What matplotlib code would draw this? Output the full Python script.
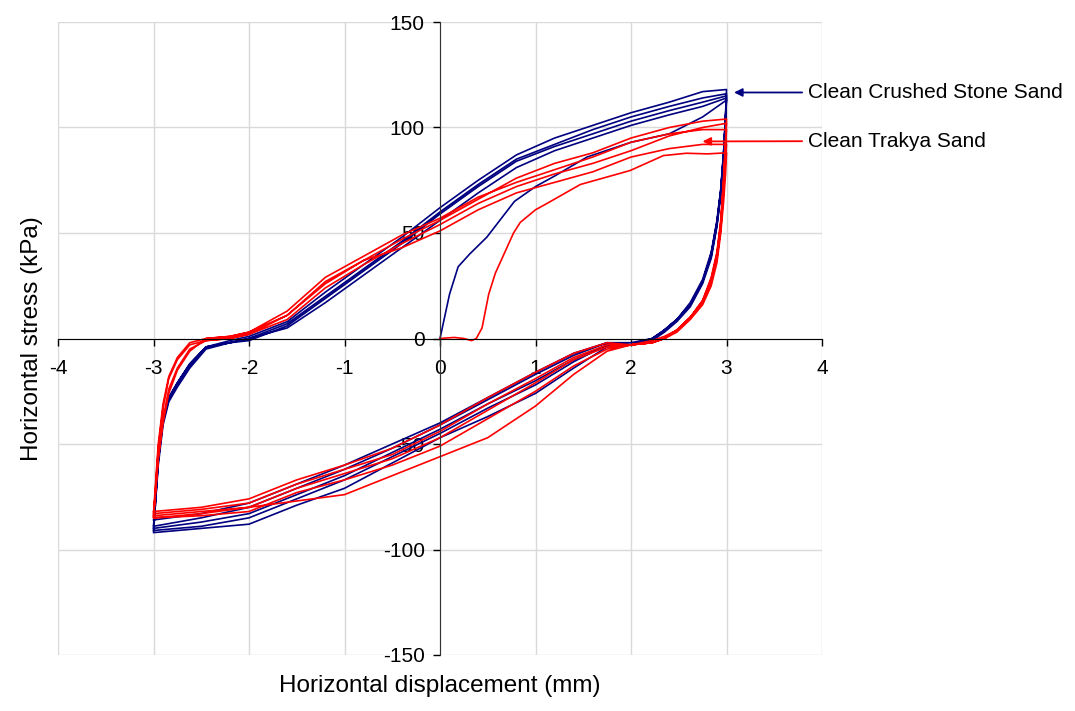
import matplotlib.pyplot as plt

plt.rcParams['font.family'] = ['Liberation Sans', 'DejaVu Sans']
plt.rcParams['axes.unicode_minus'] = False

# displacement grids used by the reloading (-3 -> 3) and unloading (3 -> -3) branches, mm
up_x = [-3.0, -2.95, -2.9, -2.84, -2.75, -2.62, -2.45, -2.2, -2.0, -1.6, -1.2,
        -0.8, -0.4, 0.0, 0.4, 0.8, 1.2, 1.6, 2.0, 2.4, 2.75, 3.0]
dn_x = [3.0, 2.99, 2.97, 2.94, 2.9, 2.84, 2.75, 2.62, 2.48, 2.35, 2.22, 2.0,
        1.75, 1.4, 1.0, 0.5, 0.0, -0.5, -1.0, -1.5, -2.0, -2.5, -3.0]

# --- Clean Crushed Stone Sand (kPa) ---
stone_x0 = [0, 0.1, 0.19, 0.31, 0.49, 0.78, 1.0, 1.2, 1.54, 2.0, 2.4, 2.75, 3.0]
stone_y0 = [0, 21, 34, 40, 48, 65, 72, 77, 86, 93, 97, 105, 113]
stone_dn1 = [113, 103, 86, 68, 53, 38, 26, 15, 8, 3, -1, -3, -4, -14, -26, -37, -47, -59, -71, -79, -88, -90, -92]
stone_up1 = [-92, -58, -39, -29, -22, -13, -4, -2, 0, 5, 17, 30, 43, 56, 69, 81, 89, 95, 101, 106, 110, 114]
stone_dn2 = [114, 104, 87, 69, 54, 39, 27, 16, 9, 4, -1, -3, -3, -11, -22, -33, -45, -56, -67, -76, -85, -89, -91]
stone_up2 = [-91, -60, -41, -30, -23, -14, -5, -2, -1, 6, 19, 32, 45, 59, 72, 84, 91, 97, 103, 108, 112, 115]
stone_dn3 = [115, 105, 88, 70, 55, 40, 27, 16, 9, 4, 0, -3, -3, -10, -20, -31, -43, -54, -65, -74, -83, -87, -90]
stone_up3 = [-90, -57, -38, -28, -21, -12, -4, -1, 1, 8, 22, 35, 48, 62, 75, 87, 95, 101, 107, 112, 117, 118]
stone_dn4 = [118, 106, 89, 71, 56, 41, 28, 17, 9, 4, 0, -2, -2, -8, -17, -29, -41, -52, -62, -71, -80, -85, -89]
stone_up4 = [-89, -56, -38, -28, -21, -12, -4, -2, 0, 7, 20, 33, 46, 60, 73, 85, 92, 99, 105, 110, 114, 116]
stone_dn5 = [116, 105, 88, 70, 55, 40, 27, 16, 9, 4, -1, -3, -2, -7, -16, -28, -40, -50, -60, -69, -78, -83, -86]

# --- Clean Trakya Sand (kPa) ---
trakya_x0 = [0, 0.15, 0.25, 0.33, 0.38, 0.44, 0.51, 0.58, 0.64, 0.7, 0.77, 0.84, 1.0, 1.12, 1.47, 1.99, 2.34, 2.58, 2.8, 3.0]
trakya_y0 = [0, 0.5, 0, -1, 0, 5, 21, 31, 37, 43, 50, 55, 61, 64, 73, 79.6, 86.7, 87.8, 87.5, 88]
trakya_dn1 = [88, 78, 65, 50, 36, 25, 16, 9, 3, 0, -2, -3, -6, -17, -32, -47, -56, -65, -74, -77, -80, -83, -85]
trakya_up1 = [-85, -56, -38, -24, -14, -5, -1, 0, 2, 11, 27, 37, 43, 51, 61, 69, 74, 79, 86, 90, 92, 92]
trakya_dn2 = [92, 85, 70, 52, 38, 27, 17, 10, 4, 1, -1, -3, -5, -13, -25, -38, -51, -60, -67, -73, -82, -84, -85]
trakya_up2 = [-85, -52, -33, -19, -10, -3, -1, 0, 2, 9, 24, 35, 45, 54, 64, 72, 78, 83, 89, 96, 100, 102]
trakya_dn3 = [102, 92, 75, 55, 40, 28, 18, 10, 4, 0, -2, -3, -4, -10, -21, -34, -47, -57, -64, -71, -80, -82, -84]
trakya_up3 = [-84, -57, -40, -26, -15, -6, 0, 1, 3, 13, 29, 39, 49, 57, 67, 74, 80, 86, 93, 97, 99, 99]
trakya_dn4 = [99, 90, 73, 54, 39, 27, 17, 10, 4, 0, -2, -3, -3, -9, -19, -31, -44, -55, -62, -69, -78, -81, -83]
trakya_up4 = [-83, -50, -31, -18, -9, -2, 0, 1, 3, 11, 26, 37, 47, 56, 66, 76, 83, 88, 95, 100, 103, 104]
trakya_dn5 = [104, 94, 76, 56, 41, 29, 18, 10, 4, 0, -2, -3, -2, -7, -16, -28, -41, -52, -60, -67, -76, -80, -82]


def build_path(x0, y0, downs, ups):
    # chain first loading + alternating unloading / reloading branches
    xs, ys = list(x0), list(y0)
    for i, d in enumerate(downs):
        xs += dn_x
        ys += d
        if i < len(ups):
            xs += up_x
            ys += ups[i]
    return xs, ys


stone_x, stone_y = build_path(stone_x0, stone_y0,
                              [stone_dn1, stone_dn2, stone_dn3, stone_dn4, stone_dn5],
                              [stone_up1, stone_up2, stone_up3, stone_up4])
trakya_x, trakya_y = build_path(trakya_x0, trakya_y0,
                                [trakya_dn1, trakya_dn2, trakya_dn3, trakya_dn4, trakya_dn5],
                                [trakya_up1, trakya_up2, trakya_up3, trakya_up4])

fig = plt.figure(figsize=(10.75, 7.11), dpi=100)
ax = fig.add_axes([58 / 1075, 56 / 711, 764 / 1075, 633 / 711])

ax.plot(stone_x, stone_y, color='#000080', lw=1.2, solid_joinstyle='round')
ax.plot(trakya_x, trakya_y, color='#FF0000', lw=1.2, solid_joinstyle='round')

ax.set_xlim(-4, 4)
ax.set_ylim(-150, 150)
ax.set_xticks(range(-4, 5))
ax.set_yticks(range(-150, 151, 50))
ax.grid(True, color='#d9d9d9', lw=1)
ax.set_axisbelow(True)

for s in ['top', 'right']:
    ax.spines[s].set_visible(False)
ax.spines['left'].set_position(('data', 0))
ax.spines['bottom'].set_position(('data', 0))
ax.spines['left'].set_color('#333333')
ax.spines['bottom'].set_color('black')
ax.tick_params(axis='both', labelsize=15, length=5, width=1, direction='out')
ax.tick_params(axis='x', pad=10)
ax.tick_params(axis='y', pad=6)

ax.set_xlabel('Horizontal displacement (mm)', fontsize=17.5)
ax.set_ylabel('Horizontal stress (kPa)', fontsize=17.5)
ax.xaxis.set_label_coords(0.5, -0.032)
ax.yaxis.set_label_coords(-0.02, 0.5)

ax.annotate('Clean Crushed Stone Sand', xy=(3.05, 116.6), xytext=(3.85, 116.6),
            fontsize=15, va='center', ha='left', annotation_clip=False,
            arrowprops=dict(arrowstyle='-|>', color='#000080', lw=1.3, mutation_scale=12))
ax.annotate('Clean Trakya Sand', xy=(2.72, 93.4), xytext=(3.85, 93.6),
            fontsize=15, va='center', ha='left', annotation_clip=False,
            arrowprops=dict(arrowstyle='-|>', color='#FF0000', lw=1.3, mutation_scale=12))

fig.savefig('out.png', dpi=100)
